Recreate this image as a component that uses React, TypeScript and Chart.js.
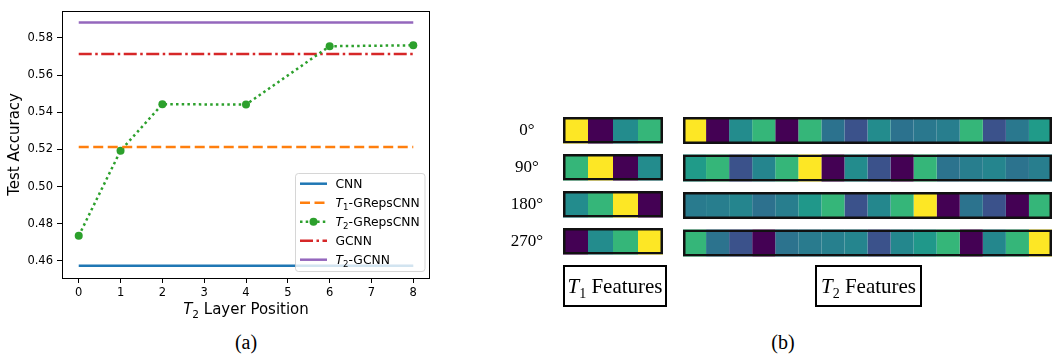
import React, { useEffect, useRef } from "react";
import { Chart, registerables } from "chart.js";
Chart.register(...registerables);

// ---------- data (a) ----------
const layerPositions = [0, 1, 2, 4, 6, 8];
const t2GRepsAcc = [0.4735, 0.5193, 0.5443, 0.5441, 0.5755, 0.576];
const cnnAcc = 0.4574;
const t1GRepsAcc = 0.5213;
const gcnnAcc = 0.5713;
const t2GcnnAcc = 0.5883;
const xTickValues = [0, 1, 2, 3, 4, 5, 6, 7, 8];
const yTickValues = [0.46, 0.48, 0.5, 0.52, 0.54, 0.56, 0.58];
const lineSpan = [0, 8];

// ---------- data (b) ----------
const rotations = ["0°", "90°", "180°", "270°"];
const t1Features = [
  [1, 0, 0.48, 0.66],
  [0.66, 1, 0, 0.48],
  [0.48, 0.66, 1, 0],
  [0, 0.48, 0.66, 1],
];
const t2Features = [
  [1, 0, 0.48, 0.66, 0, 0.66, 0.375, 0.25, 0.48, 0.375, 0.4, 0.42, 0.66, 0.25, 0.4, 0.54],
  [0.54, 0.66, 0.25, 0.45, 0.66, 1, 0, 0.48, 0.25, 0, 0.66, 0.38, 0.42, 0.45, 0.38, 0.42],
  [0.41, 0.42, 0.45, 0.37, 0.42, 0.53, 0.66, 0.25, 0.46, 0.66, 1, 0, 0.38, 0.25, 0, 0.66],
  [0.66, 0.38, 0.25, 0, 0.38, 0.41, 0.43, 0.45, 0.25, 0.46, 0.53, 0.66, 0, 0.46, 0.66, 1],
];

const VIRIDIS = [
  "#440154", "#48186a", "#472d7b", "#424086", "#3b528b", "#33638d", "#2c728e", "#26828e",
  "#21918c", "#1fa088", "#28ae80", "#3fbc73", "#5ec962", "#84d44b", "#addc30", "#d8e219", "#fde725",
];
function hex(h: string) {
  return [1, 3, 5].map((i) => parseInt(h.slice(i, i + 2), 16));
}
function viridis(v: number) {
  const t = Math.max(0, Math.min(1, v)) * (VIRIDIS.length - 1);
  const i = Math.min(Math.floor(t), VIRIDIS.length - 2);
  const f = t - i;
  const a = hex(VIRIDIS[i]);
  const b = hex(VIRIDIS[i + 1]);
  const c = a.map((x, k) => Math.round(x + (b[k] - x) * f));
  return `rgb(${c[0]},${c[1]},${c[2]})`;
}

const SANS = '"DejaVu Sans"';
const SERIF = '"Liberation Serif", "Times New Roman", serif';

type Part = { t: string; it?: boolean; sub?: boolean };
function drawRich(ctx: CanvasRenderingContext2D, parts: Part[], x: number, y: number, size: number, align: "left" | "center") {
  const fontOf = (p: Part) => `${p.it ? "italic " : ""}${p.sub ? size * 0.7 : size}px ${SANS}`;
  const widths = parts.map((p) => {
    ctx.font = fontOf(p);
    return ctx.measureText(p.t).width;
  });
  const total = widths.reduce((a, b) => a + b, 0);
  let cx = align === "center" ? x - total / 2 : x;
  ctx.textAlign = "left";
  ctx.textBaseline = "alphabetic";
  const base = y + size * 0.36;
  parts.forEach((p, i) => {
    ctx.font = fontOf(p);
    ctx.fillText(p.t, cx, p.sub ? base + size * 0.22 : base);
    cx += widths[i];
  });
}

const BLUE = "#1f77b4";
const ORANGE = "#ff7f0e";
const GREEN = "#2ca02c";
const RED = "#d62728";
const PURPLE = "#9467bd";
const LW = 2.5;
const DASHED = [10, 4.5];
const DOTTED = [2.5, 3.2];
const DASHDOT = [13, 3.5, 2.5, 3.5];

const legendEntries: { parts: Part[]; color: string; dash: number[]; marker?: boolean }[] = [
  { parts: [{ t: "CNN" }], color: BLUE, dash: [] },
  { parts: [{ t: "T", it: true }, { t: "1", sub: true }, { t: "-GRepsCNN" }], color: ORANGE, dash: DASHED },
  { parts: [{ t: "T", it: true }, { t: "2", sub: true }, { t: "-GRepsCNN" }], color: GREEN, dash: DOTTED, marker: true },
  { parts: [{ t: "GCNN" }], color: RED, dash: DASHDOT },
  { parts: [{ t: "T", it: true }, { t: "2", sub: true }, { t: "-GCNN" }], color: PURPLE, dash: [] },
];

const decorPlugin = {
  id: "decor",
  afterDatasetsDraw(chart: any) {
    const ctx: CanvasRenderingContext2D = chart.ctx;
    const a = chart.chartArea;
    ctx.save();
    // frame
    ctx.strokeStyle = "#000";
    ctx.lineWidth = 1;
    ctx.setLineDash([]);
    ctx.strokeRect(Math.round(a.left) + 0.5, Math.round(a.top) + 0.5, Math.round(a.right - a.left) - 1, Math.round(a.bottom - a.top));
    // legend
    const lx = 295.5, ly = 173.5, lw = 129.5, lh = 98;
    ctx.beginPath();
    (ctx as any).roundRect(lx, ly, lw, lh, 3);
    ctx.fillStyle = "rgba(255,255,255,0.8)";
    ctx.fill();
    ctx.strokeStyle = "rgba(204,204,204,0.8)";
    ctx.lineWidth = 1;
    ctx.stroke();
    legendEntries.forEach((e, i) => {
      const y = 183.7 + i * 19;
      ctx.beginPath();
      ctx.setLineDash(e.dash);
      ctx.lineCap = "butt";
      ctx.strokeStyle = e.color;
      ctx.lineWidth = LW;
      ctx.moveTo(300, y);
      ctx.lineTo(327, y);
      ctx.stroke();
      ctx.setLineDash([]);
      if (e.marker) {
        ctx.beginPath();
        ctx.fillStyle = e.color;
        ctx.arc(313.5, y, 4, 0, Math.PI * 2);
        ctx.fill();
      }
      ctx.fillStyle = "#000";
      drawRich(ctx, e.parts, 335.5, y, 12.3, "left");
    });
    // axis titles
    ctx.fillStyle = "#000";
    drawRich(ctx, [{ t: "T", it: true }, { t: "2", sub: true }, { t: " Layer Position" }], (a.left + a.right) / 2, 309, 15, "center");
    ctx.translate(15.5, (a.top + a.bottom) / 2);
    ctx.rotate(-Math.PI / 2);
    ctx.font = `15px ${SANS}`;
    ctx.textAlign = "center";
    ctx.textBaseline = "middle";
    ctx.fillText("Test Accuracy", 0, 0);
    ctx.restore();
  },
};

function hLine(label: string, v: number, color: string, dash: number[]) {
  return {
    label,
    data: lineSpan.map((x) => ({ x, y: v })),
    borderColor: color,
    backgroundColor: color,
    borderWidth: LW,
    borderDash: dash,
    pointRadius: 0,
    borderCapStyle: "butt",
  };
}

const ROW_FILL = 0.72;

function heatDatasets(values: number[][]) {
  const n = values[0].length;
  const cells = Array.from({ length: n }, (_, c) => ({
    data: values.map(() => [c, c + 1]),
    backgroundColor: values.map((row) => viridis(row[c])),
    borderWidth: 0,
    grouped: false,
    barPercentage: 1,
    categoryPercentage: ROW_FILL,
    order: 1,
  }));
  const frame = {
    data: values.map(() => [0, n]),
    backgroundColor: "rgba(0,0,0,0)",
    borderColor: "#111",
    borderWidth: 2.5,
    borderSkipped: false,
    grouped: false,
    barPercentage: 1,
    categoryPercentage: ROW_FILL,
    order: -1,
  };
  return [frame, ...cells];
}

function heatOptions(n: number, showLabels: boolean, padding: any) {
  const y: any = {
    type: "category",
    display: showLabels,
    grid: { display: false, drawTicks: false },
    border: { display: false },
    ticks: { color: "#000", font: { family: SERIF, size: 17 }, crossAlign: "center", padding: 20 },
  };
  if (showLabels) {
    y.afterFit = (s: any) => {
      s.width = 63;
    };
  }
  return {
    animation: false,
    responsive: false,
    indexAxis: "y",
    layout: { padding },
    plugins: { legend: { display: false }, tooltip: { enabled: false } },
    scales: {
      x: { type: "linear", min: 0, max: n, display: false },
      y,
    },
  };
}

export default function App() {
  const lineRef = useRef<HTMLCanvasElement>(null);
  const t1Ref = useRef<HTMLCanvasElement>(null);
  const t2Ref = useRef<HTMLCanvasElement>(null);

  useEffect(() => {
    const charts: Chart[] = [];
    charts.push(
      new Chart(lineRef.current!, {
        type: "line",
        data: {
          datasets: [
            hLine("CNN", cnnAcc, BLUE, []),
            hLine("T1-GRepsCNN", t1GRepsAcc, ORANGE, DASHED),
            {
              label: "T2-GRepsCNN",
              data: layerPositions.map((x, i) => ({ x, y: t2GRepsAcc[i] })),
              borderColor: GREEN,
              backgroundColor: GREEN,
              borderWidth: LW,
              borderDash: DOTTED,
              borderCapStyle: "butt",
              pointRadius: 4,
              pointBorderWidth: 0,
              pointBackgroundColor: GREEN,
            },
            hLine("GCNN", gcnnAcc, RED, DASHDOT),
            hLine("T2-GCNN", t2GcnnAcc, PURPLE, []),
          ] as any,
        },
        options: {
          animation: false,
          responsive: false,
          layout: { padding: { top: 3, right: 10, left: 0, bottom: 0 } },
          plugins: { legend: { display: false }, tooltip: { enabled: false } },
          scales: {
            x: {
              type: "linear",
              min: -0.4,
              max: 8.4,
              grid: { drawOnChartArea: false, drawTicks: true, tickLength: 5, color: "#000", tickWidth: 1 },
              border: { display: false },
              ticks: { color: "#000", font: { family: SANS, size: 11.5 }, padding: 3 },
              afterBuildTicks: (s: any) => {
                s.ticks = xTickValues.map((v) => ({ value: v }));
              },
              afterFit: (s: any) => {
                s.height = 47;
              },
            },
            y: {
              type: "linear",
              min: 0.4508,
              max: 0.5945,
              grid: { drawOnChartArea: false, drawTicks: true, tickLength: 5, color: "#000", tickWidth: 1 },
              border: { display: false },
              ticks: {
                color: "#000",
                font: { family: SANS, size: 11.5 },
                padding: 4,
                callback: (v: any) => Number(v).toFixed(2),
              },
              afterBuildTicks: (s: any) => {
                s.ticks = yTickValues.map((v) => ({ value: v }));
              },
              afterFit: (s: any) => {
                s.width = 62;
              },
            },
          },
        } as any,
        plugins: [decorPlugin],
      })
    );
    charts.push(
      new Chart(t1Ref.current!, {
        type: "bar",
        data: { labels: rotations, datasets: heatDatasets(t1Features) as any },
        options: heatOptions(4, true, { top: 31.75, bottom: 28.25, left: 0, right: 7 }) as any,
      })
    );
    charts.push(
      new Chart(t2Ref.current!, {
        type: "bar",
        data: { labels: rotations, datasets: heatDatasets(t2Features) as any },
        options: heatOptions(16, false, { top: 31.75, bottom: 28.25, left: 13, right: 0 }) as any,
      })
    );
    return () => charts.forEach((c) => c.destroy());
  }, []);

  const boxStyle: React.CSSProperties = {
    position: "absolute",
    top: 265,
    height: 38,
    border: "2px solid #000",
    fontFamily: SERIF,
    fontSize: 21,
    lineHeight: "38px",
    textAlign: "center",
    whiteSpace: "nowrap",
    color: "#000",
  };
  const capStyle: React.CSSProperties = {
    position: "absolute",
    top: 330,
    fontFamily: SERIF,
    fontSize: 20,
    lineHeight: "24px",
    color: "#000",
    transform: "translateX(-50%)",
  };
  const subStyle: React.CSSProperties = { fontSize: 14, verticalAlign: "-5px", lineHeight: 0 };

  return (
    <div style={{ position: "absolute", left: 0, top: 0, width: 1052, height: 358, background: "#fff", overflow: "hidden" }}>
      <canvas ref={lineRef} width={440} height={325} style={{ position: "absolute", left: 0, top: 0 }} />
      <canvas ref={t1Ref} width={170} height={210} style={{ position: "absolute", left: 500, top: 80 }} />
      <canvas ref={t2Ref} width={382} height={210} style={{ position: "absolute", left: 670, top: 80 }} />
      <div style={{ ...boxStyle, left: 563, width: 100 }}>
        <i>T</i>
        <span style={subStyle}>1</span> Features
      </div>
      <div style={{ ...boxStyle, left: 815, width: 103 }}>
        <i>T</i>
        <span style={subStyle}>2</span> Features
      </div>
      <div style={{ ...capStyle, left: 246 }}>(a)</div>
      <div style={{ ...capStyle, left: 783 }}>(b)</div>
    </div>
  );
}
